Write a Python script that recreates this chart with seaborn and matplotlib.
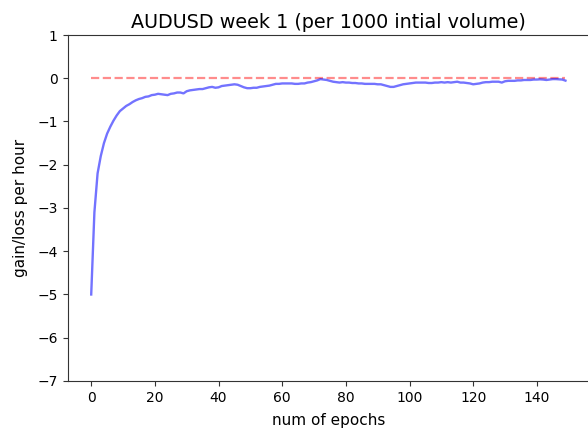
import matplotlib
matplotlib.use("Agg")
import matplotlib.pyplot as plt
import seaborn as sns
import pandas as pd
import numpy as np

title = "AUDUSD week 1 (per 1000 intial volume)"
x_label = "num of epochs"
y_label = "gain/loss per hour"

gain_loss = [
    -5.00, -3.10, -2.20, -1.80, -1.50, -1.28, -1.12, -0.98, -0.86, -0.76,
    -0.70, -0.64, -0.60, -0.55, -0.51, -0.48, -0.46, -0.43, -0.42, -0.39,
    -0.38, -0.36, -0.37, -0.38, -0.39, -0.36, -0.35, -0.33, -0.33, -0.35,
    -0.30, -0.28, -0.27, -0.26, -0.25, -0.25, -0.23, -0.21, -0.20, -0.22,
    -0.21, -0.18, -0.17, -0.16, -0.15, -0.14, -0.15, -0.18, -0.21, -0.23,
    -0.23, -0.22, -0.22, -0.20, -0.19, -0.18, -0.17, -0.15, -0.13, -0.13,
    -0.12, -0.12, -0.12, -0.12, -0.13, -0.13, -0.12, -0.12, -0.10, -0.09,
    -0.07, -0.05, -0.02, -0.03, -0.04, -0.06, -0.08, -0.09, -0.10, -0.09,
    -0.10, -0.10, -0.11, -0.11, -0.12, -0.12, -0.13, -0.13, -0.13, -0.13,
    -0.14, -0.14, -0.16, -0.18, -0.20, -0.20, -0.18, -0.16, -0.14, -0.13,
    -0.12, -0.11, -0.10, -0.10, -0.10, -0.10, -0.11, -0.11, -0.10, -0.10,
    -0.09, -0.10, -0.09, -0.10, -0.09, -0.08, -0.10, -0.10, -0.11, -0.12,
    -0.14, -0.13, -0.12, -0.10, -0.09, -0.09, -0.08, -0.08, -0.08, -0.10,
    -0.07, -0.06, -0.06, -0.06, -0.05, -0.05, -0.04, -0.04, -0.04, -0.03,
    -0.03, -0.025, -0.03, -0.04, -0.03, -0.02, -0.02, -0.025, -0.03, -0.055,
]
epochs = list(range(len(gain_loss)))
baseline = [0.0] * len(gain_loss)

df = pd.DataFrame({"epoch": epochs, "gain": gain_loss, "zero": baseline})

fig = plt.figure(figsize=(5.88, 4.30), dpi=100)
ax = fig.add_axes([0.1148, 0.114, 0.8872, 0.8046])

sns.lineplot(data=df, x="epoch", y="zero", ax=ax, color="red", alpha=0.45,
             linestyle="--", linewidth=1.6)
sns.lineplot(data=df, x="epoch", y="gain", ax=ax, color="blue", alpha=0.55,
             linewidth=1.7)

ax.set_ylim(-7, 1)
ax.set_yticks([1, 0, -1, -2, -3, -4, -5, -6, -7])
ax.set_xticks([0, 20, 40, 60, 80, 100, 120, 140])
ax.set_title(title, fontsize=13.8, pad=5)
ax.set_xlabel(x_label, fontsize=11, labelpad=6)
ax.set_ylabel(y_label, fontsize=11, labelpad=7)
ax.tick_params(labelsize=10, color="#333333")
for s in ax.spines.values():
    s.set_color("#333333")

fig.savefig("out.png", dpi=100)
